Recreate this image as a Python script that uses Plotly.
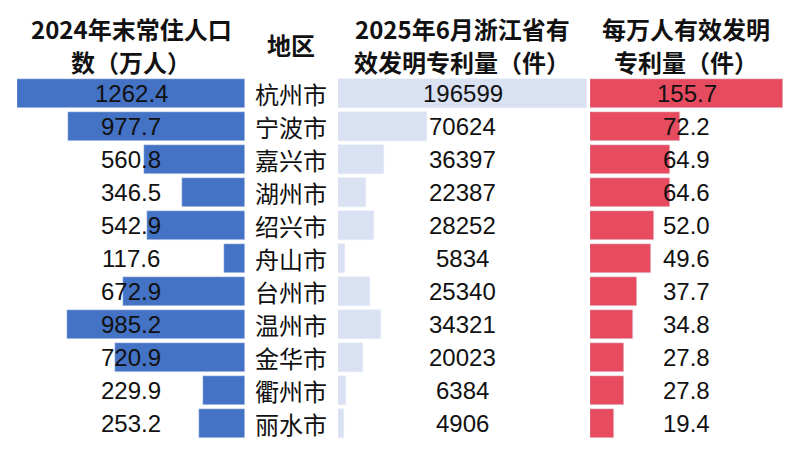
import plotly.graph_objects as go

cities = ['杭州市', '宁波市', '嘉兴市', '湖州市', '绍兴市', '舟山市', '台州市', '温州市', '金华市', '衢州市', '丽水市']
population = [1262.4, 977.7, 560.8, 346.5, 542.9, 117.6, 672.9, 985.2, 720.9, 229.9, 253.2]
patents = [196599, 70624, 36397, 22387, 28252, 5834, 25340, 34321, 20023, 6384, 4906]
per10k = [155.7, 72.2, 64.9, 64.6, 52.0, 49.6, 37.7, 34.8, 27.8, 27.8, 19.4]

headers = [['2024年末常住人口', '数（万人）'], ['地区'], ['2025年6月浙江省有', '效发明专利量（件）'], ['每万人有效发明', '专利量（件）']]

W, H = 797, 455
BLUE = '#4472C4'
LIGHT = '#D9E1F2'
RED = '#E64B5F'
NUMFONT = 'Liberation Sans, Arial, sans-serif'
CJK = 'Noto Sans CJK SC, sans-serif'

def px(x):
    return x / W

def py(y):
    return (H - y) / H

fig = go.Figure()
fig.add_trace(go.Bar(y=cities, x=population, orientation='h', marker_color=BLUE,
                     width=0.88, xaxis='x', yaxis='y', hoverinfo='skip'))
fig.add_trace(go.Bar(y=cities, x=patents, orientation='h', marker_color=LIGHT,
                     width=0.88, xaxis='x2', yaxis='y', hoverinfo='skip'))
fig.add_trace(go.Bar(y=cities, x=per10k, orientation='h', marker_color=RED,
                     width=0.88, xaxis='x3', yaxis='y', hoverinfo='skip'))

annotations = []
for c, p, q, r in zip(cities, population, patents, per10k):
    annotations.append(dict(x=0.5, xref='x domain', y=c, yref='y', text=f'{p:.1f}',
                            showarrow=False, font=dict(family=NUMFONT, size=24, color='#111')))
    annotations.append(dict(x=0.5, xref='x2 domain', y=c, yref='y', text=f'{q}',
                            showarrow=False, font=dict(family=NUMFONT, size=24, color='#111')))
    annotations.append(dict(x=0.5, xref='x3 domain', y=c, yref='y', text=f'{r:.1f}',
                            showarrow=False, font=dict(family=NUMFONT, size=24, color='#111')))
    annotations.append(dict(x=px(291), xref='paper', y=c, yref='y', text=c,
                            showarrow=False, font=dict(family=CJK, size=24, color='#111')))

header_x = [131, 291, 462, 686]
for hx, lines in zip(header_x, headers):
    ys = [45] if len(lines) == 1 else [28, 62]
    for hy, ht in zip(ys, lines):
        annotations.append(dict(x=px(hx), xref='paper', y=py(hy), yref='paper', text=f'<b>{ht}</b>',
                                showarrow=False, xanchor='center', yanchor='middle',
                                font=dict(family=CJK, size=24, color='#111')))

axis_common = dict(showgrid=False, zeroline=False, showticklabels=False, showline=False, fixedrange=True)

fig.update_layout(
    width=W, height=H,
    margin=dict(l=0, r=0, t=0, b=0),
    paper_bgcolor='white', plot_bgcolor='white',
    showlegend=False,
    bargap=0,
    xaxis=dict(domain=[px(17), px(245)], range=[1262.4, 0], anchor='y', **axis_common),
    xaxis2=dict(domain=[px(338), px(587)], range=[0, 196599], anchor='y', **axis_common),
    xaxis3=dict(domain=[px(590), px(783)], range=[0, 155.7], anchor='y', **axis_common),
    yaxis=dict(domain=[py(440), py(77)], range=[10.5, -0.5], type='category', **axis_common),
    annotations=annotations,
)

fig.write_html('out.html', config={'displayModeBar': False},
               post_script="document.body.style.margin='0';")
